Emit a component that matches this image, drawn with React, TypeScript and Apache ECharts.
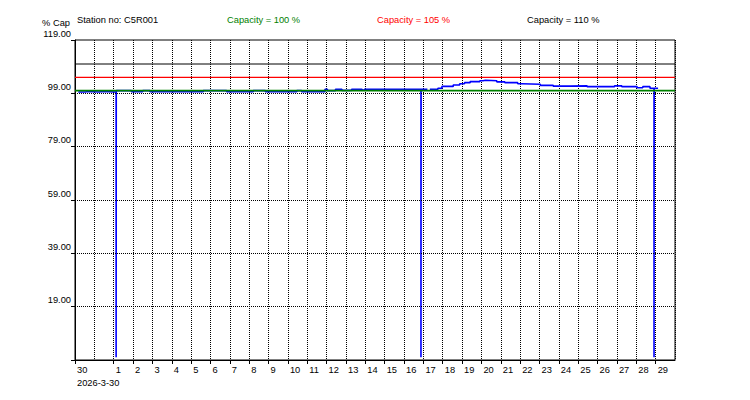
import React, { useEffect, useRef } from "react";
import * as echarts from "echarts";

// ---- data ----
const stationNo = "C5R001";
const yAxisTitle = "% Cap";
const startDate = "2026-03-30";
const endDate = "2026-04-30";
const yMin = -1;
const yMax = 119;
const yTickValues = [-1, 19, 39, 59, 79, 99, 119];
const yLabelValues = [19, 39, 59, 79, 99, 119];
const yGridValues = [19, 39, 59, 79, 99];
const thresholdValues = [100, 105, 110];
const thresholdColors = ["#008000", "#ff0000", "#000000"];
const thresholdWidths = [1.6, 1.2, 1];

const sampleTimes = [
  "2026-03-30 04:00", "2026-03-30 13:00", "2026-03-30 15:00", "2026-03-31 06:00",
  "2026-03-31 10:00", "2026-04-01 02:00", "2026-04-01 03:00", "2026-04-01 03:10",
  "2026-04-01 22:00", "2026-04-02 12:00", "2026-04-02 21:00", "2026-04-05 15:00",
  "2026-04-06 20:00", "2026-04-08 05:00", "2026-04-08 20:00", "2026-04-10 11:00",
  "2026-04-10 17:00", "2026-04-11 22:00", "2026-04-12 01:00", "2026-04-12 11:00",
  "2026-04-12 19:00", "2026-04-13 07:00", "2026-04-13 20:00", "2026-04-13 23:00",
  "2026-04-16 21:00", "2026-04-16 21:10", "2026-04-17 04:00", "2026-04-17 05:00",
  "2026-04-17 08:00", "2026-04-17 18:00", "2026-04-17 23:00", "2026-04-18 13:00",
  "2026-04-18 21:00", "2026-04-19 03:00", "2026-04-19 10:00", "2026-04-19 22:00",
  "2026-04-20 02:00", "2026-04-20 05:00", "2026-04-20 19:00", "2026-04-21 05:00",
  "2026-04-21 21:00", "2026-04-22 02:00", "2026-04-23 01:00", "2026-04-23 17:00",
  "2026-04-24 14:00", "2026-04-25 11:00", "2026-04-26 21:00", "2026-04-27 06:00",
  "2026-04-28 01:00", "2026-04-28 08:00", "2026-04-28 17:00", "2026-04-28 22:00",
  "2026-04-28 22:10", "2026-04-29 03:00",
];
const capacityValues: (number | null)[] = [
  99.5, 99.7, 99.5, 99.7,
  99.5, 99.6, 0, 100.0,
  99.6, 100.0, 99.6, 100.0,
  99.6, 100.0, 99.6, 100.0,
  99.6, 100.5, 100.0, 100.5,
  100.1, 100.5, 100.2, 100.5,
  0, 100.5, 100.5, null,
  100.5, 100.9, 101.6, 102.1,
  102.6, 103.0, 103.4, 103.7,
  103.9, 103.7, 103.3, 103.0,
  102.6, 102.4, 102.0, 101.7,
  101.8, 101.5, 101.8, 101.5,
  101.1, 101.5, 100.9, 0,
  100.9, 100.9,
];

const FONT = "'Liberation Sans', Arial, sans-serif";
const DAY = 86400000;
const toMs = (s: string) => Date.parse(s.replace(" ", "T") + ":00Z");

export default function App() {
  const ref = useRef<HTMLDivElement>(null);
  useEffect(() => {
    if (!ref.current) return;
    const chart = echarts.init(ref.current, undefined, { renderer: "svg" });
    const xMin = toMs(startDate + " 00:00");
    const xMax = toMs(endDate + " 00:00");
    const seriesData = sampleTimes.map((t, i) => [toMs(t), capacityValues[i]]);

    const thresholdSeries = thresholdValues.map((v, i) => ({
      type: "line",
      name: "Capacity = " + v + " %",
      data: [[xMin, v], [xMax, v]],
      symbol: "none",
      silent: true,
      z: 3,
      lineStyle: { color: thresholdColors[i], width: thresholdWidths[i] },
      ...(i === 2
        ? {
            markLine: {
              silent: true,
              symbol: "none",
              label: { show: false },
              lineStyle: { color: "#000", type: [1, 1], width: 1 },
              data: yGridValues.map((g) => ({ yAxis: g })),
            },
          }
        : {}),
    }));

    const option: any = {
      animation: false,
      grid: {
        left: 75, top: 40, right: 75, bottom: 40,
        show: true, borderColor: "#000", borderWidth: 1, backgroundColor: "transparent",
      },
      xAxis: {
        type: "value",
        min: xMin,
        max: xMax,
        interval: DAY,
        axisLine: { show: true, onZero: false, lineStyle: { color: "#000", width: 1 } },
        axisTick: { show: true, length: 4, lineStyle: { color: "#000" } },
        splitLine: { show: true, lineStyle: { color: "#000", type: [1, 1], width: 1 } },
        axisLabel: {
          showMaxLabel: false,
          showMinLabel: true,
          align: "left",
          verticalAlign: "top",
          padding: [0, 0, 0, 2],
          margin: 3,
          lineHeight: 13,
          color: "#000",
          fontSize: 9.3,
          fontFamily: FONT,
          formatter: (v: number) => {
            const d = new Date(v);
            const day = d.getUTCDate();
            if (v === xMin) {
              return day + "\n" + d.getUTCFullYear() + "-" + (d.getUTCMonth() + 1) + "-" + day;
            }
            return String(day);
          },
        },
      },
      yAxis: {
        type: "value",
        min: yMin,
        max: yMax,
        axisLine: { show: true, onZero: false, lineStyle: { color: "#000", width: 1 } },
        axisTick: { show: true, length: 4, customValues: yTickValues, lineStyle: { color: "#000" } },
        splitLine: { show: false },
        axisLabel: {
          customValues: yLabelValues,
          formatter: (v: number) => v.toFixed(2),
          verticalAlign: "bottom",
          lineHeight: 13,
          margin: 4,
          color: "#000",
          fontSize: 9.3,
          fontFamily: FONT,
        },
      },
      graphic: [
        { type: "text", style: { text: yAxisTitle, x: 70, y: 23, align: "right", verticalAlign: "middle", fill: "#000", font: "9.3px " + FONT } },
        { type: "text", style: { text: "Station no: " + stationNo, x: 77, y: 19.5, align: "left", verticalAlign: "middle", fill: "#000", font: "9.3px " + FONT } },
        ...thresholdValues.map((v, i) => ({
          type: "text",
          style: {
            text: "Capacity = " + v + " %",
            x: 227 + i * 150,
            y: 19.5,
            align: "left",
            verticalAlign: "middle",
            fill: thresholdColors[i],
            font: "9.3px " + FONT,
          },
        })),
      ],
      series: [
        {
          type: "line",
          name: "Capacity",
          data: seriesData,
          step: "end",
          symbol: "none",
          connectNulls: false,
          z: 2,
          lineStyle: { color: "#0000ff", width: 1.6 },
        },
        ...thresholdSeries,
      ],
    };
    chart.setOption(option);
    return () => chart.dispose();
  }, []);
  return (
    <div
      ref={ref}
      style={{ position: "fixed", left: 0, top: 0, width: 750, height: 400, background: "#fff" }}
    />
  );
}
